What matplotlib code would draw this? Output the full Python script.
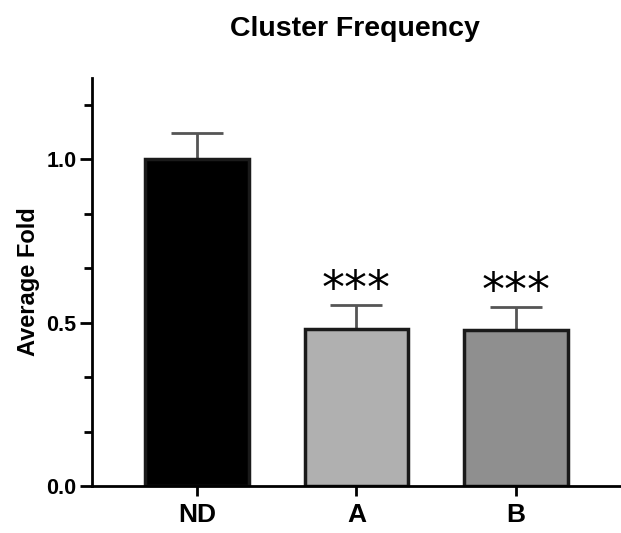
import matplotlib
matplotlib.use('Agg')
import matplotlib.pyplot as plt
from matplotlib.ticker import MultipleLocator, AutoMinorLocator

# data
groups = ['ND', 'A', 'B']
means = [1.0, 0.482, 0.477]
errors = [0.08, 0.071, 0.072]
bar_colors = ['#000000', '#b0b0b0', '#8f8f8f']
sig_labels = ['', '***', '***']

plt.rcParams['font.family'] = ['Liberation Sans', 'DejaVu Sans']

fig = plt.figure(figsize=(6.21, 5.33), dpi=100)
ax = fig.add_axes([0.148, 0.088, 0.852, 0.766])

x = range(len(groups))
ax.bar(x, means, width=0.65, color=bar_colors, edgecolor='#1a1a1a',
       linewidth=2.5, zorder=2)
ax.errorbar(x, means, yerr=[[0] * len(errors), errors], fmt='none',
            ecolor='#555555', elinewidth=2, capsize=19, capthick=2, zorder=1)

# significance stars sit just above the error caps
for i, lab in enumerate(sig_labels):
    if lab:
        ax.text(i, means[i] + errors[i] + 0.045, lab, ha='center', va='center',
                fontsize=33, family='DejaVu Sans')

ax.set_xlim(-0.66, 2.66)
ax.set_ylim(0, 1.25)
ax.yaxis.set_major_locator(MultipleLocator(0.5))
ax.yaxis.set_minor_locator(AutoMinorLocator(3))
ax.set_xticks(list(x))
ax.set_xticklabels(groups, fontsize=19, fontweight='bold')
ax.set_yticks([0, 0.5, 1.0])
ax.set_yticklabels(['0.0', '0.5', '1.0'], fontsize=15.5, fontweight='bold')
ax.tick_params(axis='y', which='major', length=9, width=2, pad=2)
ax.tick_params(axis='y', which='minor', length=6, width=2)
ax.tick_params(axis='x', length=7, width=2, pad=5)

for side in ['top', 'right']:
    ax.spines[side].set_visible(False)
for side in ['left', 'bottom']:
    ax.spines[side].set_linewidth(2)

ax.set_ylabel('Average Fold', fontsize=17, fontweight='bold', labelpad=5)
fig.text(0.572, 0.945, 'Cluster Frequency', ha='center', va='center',
         fontsize=20.5, fontweight='bold')

plt.savefig('out.png', dpi=100)
